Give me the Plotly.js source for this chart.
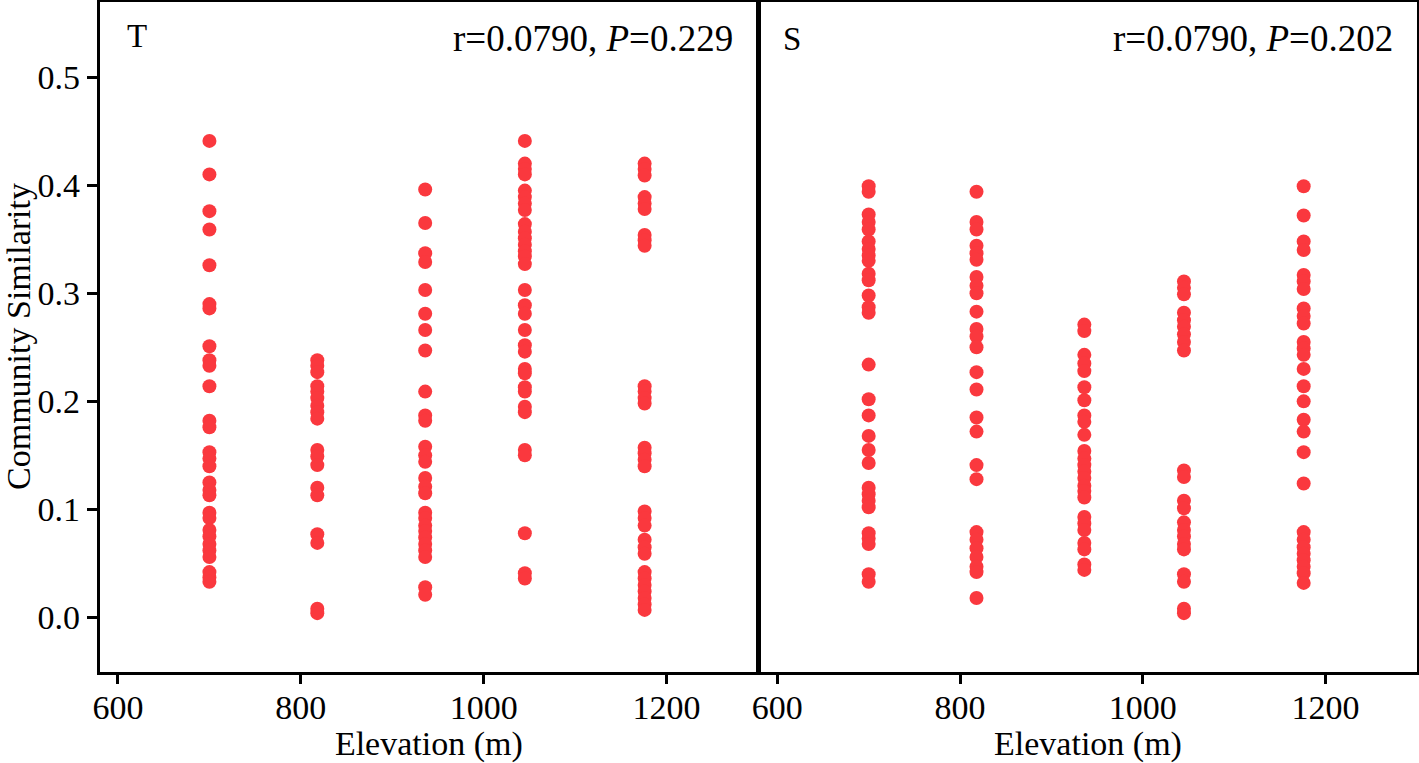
<!DOCTYPE html>
<html>
<head>
<meta charset="utf-8">
<script src="https://cdn.plot.ly/plotly-3.0.1.min.js"></script>
<style>
  html, body { margin: 0; padding: 0; background: #fff; }
  #chart { width: 1419px; height: 763px; }
</style>
</head>
<body>
<div id="chart"></div>
<script>
// Elevations (m) of the sampling sites
const elevations = [700, 818, 936, 1045, 1176];

// Panel T: community similarity values at each elevation
const T_700  = [0.441,0.410,0.376,0.359,0.326,0.290,0.286,0.251,0.238,0.233,0.214,0.182,0.176,0.153,0.147,0.140,0.125,0.118,0.113,0.097,0.092,0.081,0.075,0.068,0.062,0.056,0.042,0.037,0.033];
const T_818  = [0.238,0.233,0.227,0.214,0.209,0.203,0.196,0.190,0.184,0.155,0.149,0.141,0.120,0.113,0.077,0.069,0.008,0.004];
const T_936  = [0.396,0.365,0.337,0.329,0.303,0.281,0.266,0.247,0.209,0.187,0.182,0.158,0.150,0.144,0.129,0.121,0.115,0.097,0.092,0.085,0.080,0.074,0.068,0.062,0.056,0.028,0.021];
const T_1045 = [0.441,0.420,0.415,0.410,0.395,0.389,0.383,0.377,0.364,0.357,0.351,0.345,0.339,0.334,0.327,0.303,0.289,0.281,0.266,0.252,0.246,0.230,0.226,0.213,0.209,0.195,0.190,0.155,0.150,0.078,0.041,0.036];
const T_1176 = [0.420,0.415,0.409,0.389,0.383,0.378,0.354,0.349,0.344,0.214,0.209,0.203,0.198,0.157,0.152,0.146,0.140,0.098,0.092,0.085,0.072,0.065,0.059,0.042,0.036,0.030,0.024,0.018,0.012,0.007];

// Panel S: community similarity values at each elevation
const S_700  = [0.399,0.394,0.373,0.366,0.359,0.348,0.341,0.335,0.330,0.318,0.312,0.298,0.287,0.282,0.234,0.202,0.187,0.168,0.155,0.143,0.120,0.114,0.108,0.102,0.078,0.073,0.068,0.040,0.033];
const S_818  = [0.394,0.366,0.359,0.344,0.337,0.331,0.315,0.307,0.300,0.283,0.267,0.260,0.250,0.227,0.211,0.185,0.172,0.141,0.128,0.079,0.072,0.064,0.056,0.047,0.042,0.018];
const S_936  = [0.271,0.265,0.243,0.235,0.228,0.213,0.201,0.187,0.181,0.169,0.154,0.147,0.141,0.135,0.129,0.122,0.117,0.111,0.093,0.087,0.081,0.069,0.063,0.049,0.044];
const S_1045 = [0.311,0.305,0.299,0.282,0.275,0.269,0.262,0.255,0.247,0.136,0.130,0.108,0.101,0.088,0.081,0.075,0.068,0.063,0.040,0.033,0.008,0.004];
const S_1176 = [0.399,0.372,0.348,0.340,0.317,0.311,0.304,0.286,0.279,0.272,0.255,0.249,0.243,0.230,0.214,0.200,0.183,0.172,0.153,0.124,0.079,0.072,0.065,0.059,0.053,0.047,0.041,0.032];

const panelLabels = ['T', 'S'];
const statLabels = ['r=0.0790, <i>P</i>=0.229', 'r=0.0790, <i>P</i>=0.202'];
const xTicks = [600, 800, 1000, 1200];
const yTicks = [0.0, 0.1, 0.2, 0.3, 0.4, 0.5];

function build(groups) {
  const xs = [], ys = [];
  groups.forEach((vals, i) => {
    vals.forEach(v => { xs.push(elevations[i]); ys.push(v); });
  });
  return {xs, ys};
}

const tData = build([T_700, T_818, T_936, T_1045, T_1176]);
const sData = build([S_700, S_818, S_936, S_1045, S_1176]);

const FONT = 'Liberation Serif, "Times New Roman", serif';
const RED = 'rgb(250,56,62)';

const marker = {size: 14, color: RED, line: {width: 0}};

const traces = [
  {x: tData.xs, y: tData.ys, type: 'scatter', mode: 'markers', marker: marker, xaxis: 'x', yaxis: 'y', showlegend: false, hoverinfo: 'x+y'},
  {x: sData.xs, y: sData.ys, type: 'scatter', mode: 'markers', marker: marker, xaxis: 'x2', yaxis: 'y2', showlegend: false, hoverinfo: 'x+y'}
];

const W = 1419, H = 763;
const xd1 = [99.7 / W, 758 / W];
const xd2 = [759 / W, 1417 / W];
const yd = [91.5 / H, 761.5 / H];

const xBase = {
  range: [580, 1300],
  tickvals: xTicks,
  ticks: 'outside', ticklen: 9, tickwidth: 3, tickcolor: '#000',
  ticklabelstandoff: -5,
  showline: true, linewidth: 3, linecolor: '#000', mirror: true,
  showgrid: false, zeroline: false,
  tickfont: {family: FONT, size: 34, color: '#000'},
  title: {text: 'Elevation (m)', font: {family: FONT, size: 34, color: '#000'}, standoff: 6},
  fixedrange: true
};

const layout = {
  width: W, height: H,
  margin: {l: 0, r: 0, t: 0, b: 0},
  paper_bgcolor: '#fff', plot_bgcolor: '#fff',
  xaxis: Object.assign({}, xBase, {domain: xd1, anchor: 'y'}),
  xaxis2: Object.assign({}, xBase, {domain: xd2, anchor: 'y2'}),
  yaxis: {
    domain: yd, anchor: 'x',
    range: [-0.05, 0.57],
    tickvals: yTicks, tickformat: '.1f',
    ticks: 'outside', ticklen: 10, tickwidth: 3, tickcolor: '#000',
    showline: true, linewidth: 3, linecolor: '#000', mirror: true,
    showgrid: false, zeroline: false,
    tickfont: {family: FONT, size: 34, color: '#000'},
    title: {text: 'Community Similarity', font: {family: FONT, size: 34, color: '#000'}, standoff: 0},
    fixedrange: true
  },
  yaxis2: {
    domain: yd, anchor: 'x2',
    range: [-0.05, 0.57],
    showticklabels: false, ticks: '',
    showline: true, linewidth: 3, linecolor: '#000', mirror: true,
    showgrid: false, zeroline: false,
    fixedrange: true
  },
  annotations: [
    {text: panelLabels[0], xref: 'paper', yref: 'paper', x: 125 / W, y: 1 - 36 / H, xanchor: 'left', yanchor: 'middle', showarrow: false, font: {family: FONT, size: 33, color: '#000'}},
    {text: panelLabels[1], xref: 'paper', yref: 'paper', x: 781 / W, y: 1 - 39 / H, xanchor: 'left', yanchor: 'middle', showarrow: false, font: {family: FONT, size: 33, color: '#000'}},
    {text: statLabels[0], xref: 'paper', yref: 'paper', x: 735 / W, y: 1 - 38 / H, xanchor: 'right', yanchor: 'middle', showarrow: false, font: {family: FONT, size: 37, color: '#000'}},
    {text: statLabels[1], xref: 'paper', yref: 'paper', x: 1395 / W, y: 1 - 38 / H, xanchor: 'right', yanchor: 'middle', showarrow: false, font: {family: FONT, size: 37, color: '#000'}}
  ]
};

Plotly.newPlot('chart', traces, layout, {displayModeBar: false, staticPlot: true});
</script>
</body>
</html>
